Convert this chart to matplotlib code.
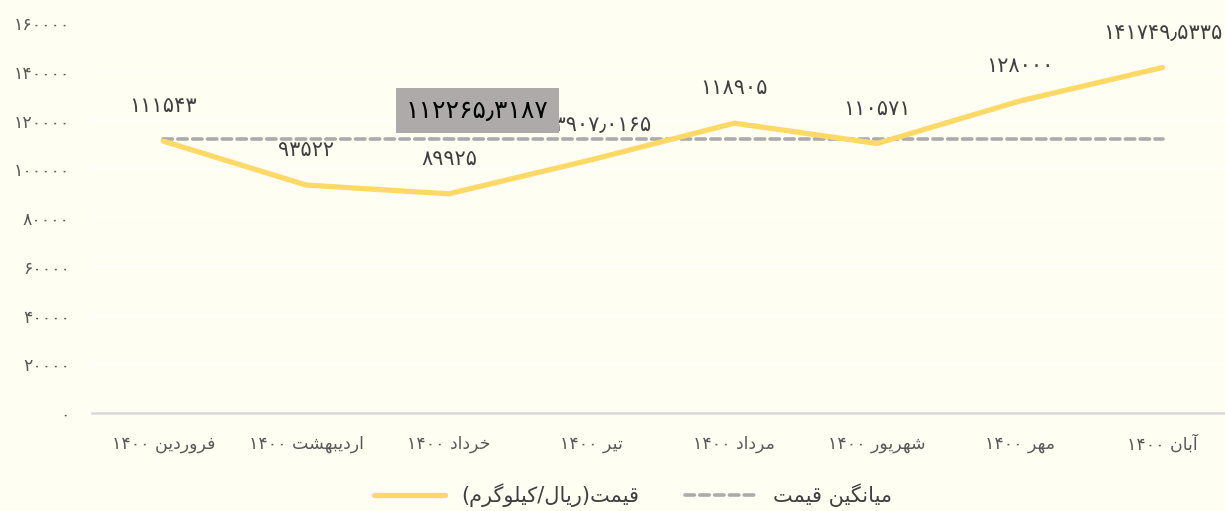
import matplotlib
matplotlib.use("Agg")
import matplotlib.pyplot as plt

months = ["فروردین ۱۴۰۰", "اردیبهشت ۱۴۰۰", "خرداد ۱۴۰۰", "تیر ۱۴۰۰",
          "مرداد ۱۴۰۰", "شهریور ۱۴۰۰", "مهر ۱۴۰۰", "آبان ۱۴۰۰"]
price = [111543, 93522, 89925, 103907.0165, 118905, 110571, 128000, 141749.5335]
avg_price = 112265.3187
yticks = [0, 20000, 40000, 60000, 80000, 100000, 120000, 140000, 160000]
legend_price = "قیمت(ریال/کیلوگرم)"
legend_avg = "میانگین قیمت"

# isolated, final, initial, medial
FORMS = {
    'ا': ('\uFE8D', '\uFE8E', None, None),
    'آ': ('\uFE81', '\uFE82', None, None),
    'ب': ('\uFE8F', '\uFE90', '\uFE91', '\uFE92'),
    'ت': ('\uFE95', '\uFE96', '\uFE97', '\uFE98'),
    'خ': ('\uFEA5', '\uFEA6', '\uFEA7', '\uFEA8'),
    'د': ('\uFEA9', '\uFEAA', None, None),
    'ر': ('\uFEAD', '\uFEAE', None, None),
    'ش': ('\uFEB5', '\uFEB6', '\uFEB7', '\uFEB8'),
    'ف': ('\uFED1', '\uFED2', '\uFED3', '\uFED4'),
    'ق': ('\uFED5', '\uFED6', '\uFED7', '\uFED8'),
    'ل': ('\uFEDD', '\uFEDE', '\uFEDF', '\uFEE0'),
    'م': ('\uFEE1', '\uFEE2', '\uFEE3', '\uFEE4'),
    'ن': ('\uFEE5', '\uFEE6', '\uFEE7', '\uFEE8'),
    'ه': ('\uFEE9', '\uFEEA', '\uFEEB', '\uFEEC'),
    'و': ('\uFEED', '\uFEEE', None, None),
    'ی': ('\uFBFC', '\uFBFD', '\uFBFE', '\uFBFF'),
    'ک': ('\uFB8E', '\uFB8F', '\uFB90', '\uFB91'),
    'گ': ('\uFB92', '\uFB93', '\uFB94', '\uFB95'),
}
DIGITS = "۰۱۲۳۴۵۶۷۸۹٫"
MIRROR = {'(': ')', ')': '('}


def shape(text):
    out = []
    for i, ch in enumerate(text):
        if ch not in FORMS:
            out.append(ch)
            continue
        prev = text[i - 1] if i > 0 else ''
        nxt = text[i + 1] if i + 1 < len(text) else ''
        jp = prev in FORMS and FORMS[prev][2] is not None
        jn = FORMS[ch][2] is not None and nxt in FORMS
        iso, fin, ini, med = FORMS[ch]
        if jp and jn:
            out.append(med)
        elif jp:
            out.append(fin)
        elif jn:
            out.append(ini)
        else:
            out.append(iso)
    return ''.join(out)


def rtl(text):
    text = shape(text)
    runs = []
    for ch in text:
        isnum = ch in DIGITS
        if runs and runs[-1][0] == isnum:
            runs[-1][1].append(ch)
        else:
            runs.append([isnum, [ch]])
    res = ''
    for isnum, chars in reversed(runs):
        if isnum:
            res += ''.join(chars)
        else:
            res += ''.join(MIRROR.get(c, c) for c in reversed(chars))
    return res


def fa_num(v):
    s = str(int(v)) if v == int(v) else str(v)
    return s.translate(str.maketrans("0123456789.", DIGITS))


plt.rcParams['font.family'] = ['DejaVu Sans']
bg = '#FFFEF2'
fig = plt.figure(figsize=(12.25, 5.11), dpi=100, facecolor=bg)
ax = fig.add_axes([92 / 1225, 1 - 413 / 511, 1142 / 1225, 390 / 511])
ax.set_facecolor(bg)

x = list(range(len(months)))
ax.plot(x, price, color='#FFD966', lw=3.8, solid_capstyle='round',
        solid_joinstyle='round', zorder=3, label=rtl(legend_price))
ax.plot(x, [avg_price] * len(x), color='#ABABAB', lw=2.6, ls=(0, (2.6, 1.5)),
        dash_capstyle='round', zorder=2, label=rtl(legend_avg))

for xi, v in zip(x, price):
    ax.annotate(fa_num(v), (xi, v), xytext=(0, 25), textcoords='offset points',
                ha='center', va='center', fontsize=15, color='#404040', zorder=4)

ax.text(2.2, 124100, fa_num(avg_price), ha='center', va='center', fontsize=18,
        color='black', zorder=6,
        bbox=dict(boxstyle='square,pad=0.42', fc='#ADAAA9', ec='none'))

ax.set_xlim(-0.5, 7.5)
ax.set_ylim(0, 160000)
ax.set_xticks(x)
ax.set_xticklabels([rtl(m) for m in months], fontsize=12.5, color='#595959')
ax.set_yticks(yticks)
ax.set_yticklabels([fa_num(t) for t in yticks], fontsize=12.5, color='#595959')
ax.tick_params(length=0)
ax.tick_params(axis='x', pad=16)
ax.tick_params(axis='y', pad=16)
ax.grid(axis='y', color='white', lw=1.2, zorder=0)
for s in ['top', 'right', 'left']:
    ax.spines[s].set_visible(False)
ax.spines['bottom'].set_color('#D9D9D9')
ax.spines['bottom'].set_linewidth(1.8)

fig.legend(loc='center', bbox_to_anchor=(633 / 1225, 1 - 495 / 511), ncol=2,
           frameon=False, fontsize=15, labelcolor='#404040', handlelength=3.4,
           columnspacing=2.2)

fig.savefig('out.png', dpi=100, facecolor=bg)
